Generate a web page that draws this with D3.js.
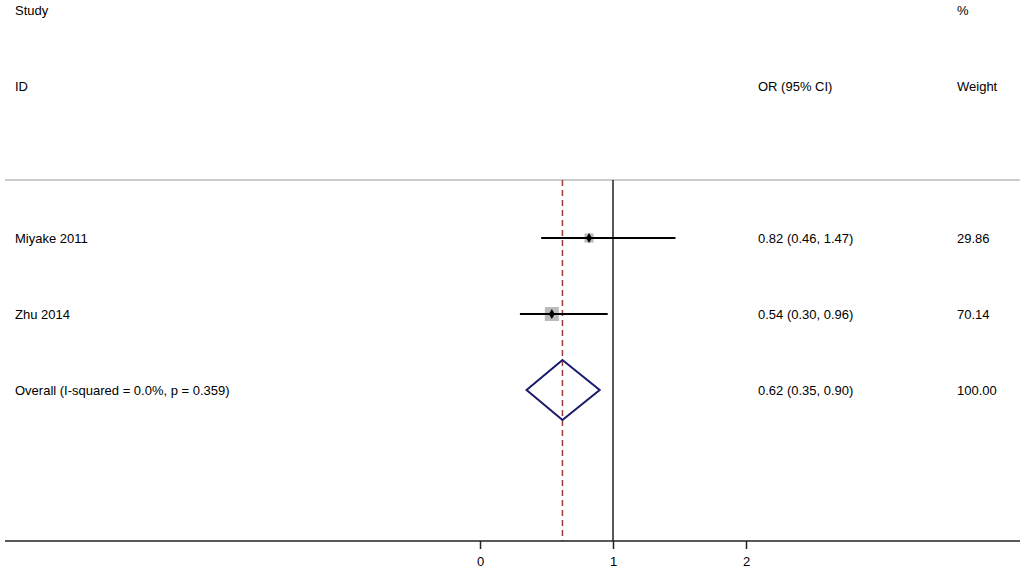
<!DOCTYPE html>
<html><head><meta charset="utf-8">
<script src="https://cdn.jsdelivr.net/npm/d3@7"></script>
<style>body{margin:0;background:#fff}text{font-family:"Liberation Sans",Arial,sans-serif;font-size:13px;fill:#000}</style>
</head><body>
<svg id="c" width="1024" height="577"></svg>
<script>
// study rows
const studies = ['Miyake 2011', 'Zhu 2014'];
const or = [0.82, 0.54];
const lo = [0.46, 0.30];
const hi = [1.47, 0.96];
const weight = [29.86, 70.14];
const ciText = ['0.82 (0.46, 1.47)', '0.54 (0.30, 0.96)'];
// pooled
const overall = {label: 'Overall  (I-squared = 0.0%, p = 0.359)', or: 0.62, lo: 0.35, hi: 0.90, ci: '0.62 (0.35, 0.90)', w: '100.00'};
const ticks = [0, 1, 2];

const svg = d3.select('#c');
const x = d3.scaleLinear().domain([0, 2]).range([480, 746]);
const y = d3.scalePoint().domain([...studies, 'overall']).range([238, 390]);
const plotTop = 180, plotBottom = 541;

svg.append('text').attr('x', 15).attr('y', 15).text('Study');
svg.append('text').attr('x', 15).attr('y', 91).text('ID');
svg.append('text').attr('x', 957).attr('y', 15).text('%');
svg.append('text').attr('x', 957).attr('y', 91).text('Weight');
svg.append('text').attr('x', 758).attr('y', 91).text('OR (95% CI)');

svg.append('line').attr('x1', 5).attr('x2', 1020).attr('y1', plotTop).attr('y2', plotTop)
  .attr('stroke', '#bbb').attr('stroke-width', 1.5);

svg.append('line').attr('x1', x(1)).attr('x2', x(1)).attr('y1', plotTop).attr('y2', plotBottom)
  .attr('stroke', '#222').attr('stroke-width', 1.5);
svg.append('line').attr('x1', x(overall.or)).attr('x2', x(overall.or)).attr('y1', plotTop).attr('y2', plotBottom)
  .attr('stroke', '#a0393c').attr('stroke-width', 1.5).attr('stroke-dasharray', '6,4');

// axis
svg.append('line').attr('x1', 5).attr('x2', 1020).attr('y1', plotBottom).attr('y2', plotBottom)
  .attr('stroke', '#222').attr('stroke-width', 1.5);
const ax = svg.append('g').attr('transform', `translate(0,${plotBottom})`)
  .call(d3.axisBottom(x).tickValues(ticks).tickSize(8).tickPadding(8).tickFormat(d3.format('d')));
ax.select('.domain').remove();
ax.selectAll('line').attr('stroke', '#222').attr('stroke-width', 1.5);
ax.selectAll('text').style('font-size', '13px').style('font-family', '"Liberation Sans",Arial,sans-serif');

studies.forEach((s, i) => {
  const yy = y(s);
  svg.append('text').attr('x', 15).attr('y', yy + 5).text(s);
  svg.append('text').attr('x', 758).attr('y', yy + 5).text(ciText[i]);
  svg.append('text').attr('x', 957).attr('y', yy + 5).text(weight[i].toFixed(2));
  const sz = 14 * Math.sqrt(weight[i] / 70.14);
  svg.append('rect').attr('x', x(or[i]) - sz / 2).attr('y', yy - sz / 2)
    .attr('width', sz).attr('height', sz).attr('fill', '#bbb');
  svg.append('line').attr('x1', x(lo[i])).attr('x2', x(hi[i])).attr('y1', yy).attr('y2', yy)
    .attr('stroke', '#000').attr('stroke-width', 2);
  svg.append('path').attr('d', d3.symbol(d3.symbolDiamond, 30)())
    .attr('transform', `translate(${x(or[i])},${yy})`).attr('fill', '#000');
});

const yo = y('overall');
svg.append('text').attr('x', 15).attr('y', yo + 5).text(overall.label);
svg.append('text').attr('x', 758).attr('y', yo + 5).text(overall.ci);
svg.append('text').attr('x', 957).attr('y', yo + 5).text(overall.w);
svg.append('path')
  .attr('d', `M${x(overall.lo)},${yo}L${x(overall.or)},${yo - 30}L${x(overall.hi)},${yo}L${x(overall.or)},${yo + 30}Z`)
  .attr('fill', 'none').attr('stroke', '#1a1a6e').attr('stroke-width', 2);
</script>
</body></html>
